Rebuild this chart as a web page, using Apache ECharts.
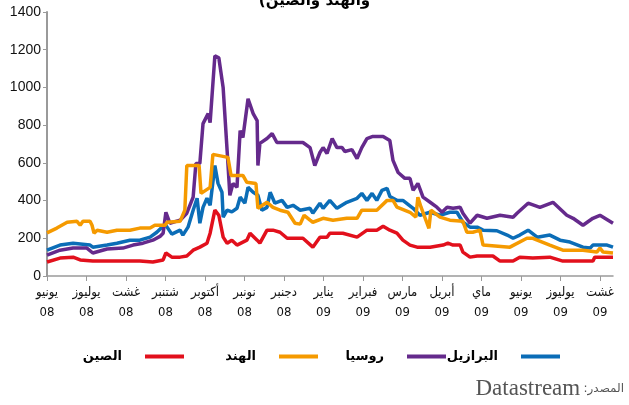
<!DOCTYPE html>
<html>
<head>
<meta charset="utf-8">
<script src="https://cdn.jsdelivr.net/npm/echarts@6/dist/echarts.min.js"></script>
<style>
html,body{margin:0;padding:0;background:#fff;}
#chart{width:629px;height:405px;}
</style>
</head>
<body>
<div id="chart"></div>
<script>
// months from June 2008 (0) to August 2009 (14)
var months = ['يونيو','يوليوز','غشت','شتنبر','أكتوبر','نونبر','دجنبر','يناير','فبراير','مارس','أبريل','ماي','يونيو','يوليوز','غشت'];
var years = ['08','08','08','08','08','08','08','09','09','09','09','09','09','09','09'];
var monthTicks = [0,1,2,3,4,5,6,7,8,9,10,11,12,13,14];

var names = ['البرازيل','روسيا','الهند','الصين'];

// [month offset, value]
var brazil = [[0,137],[0.33,164],[0.66,174],[1.09,164],[1.16,153],[1.52,164],[1.77,174],[2.10,190],[2.35,190],[2.61,206],[2.78,232],[2.99,275],[3.16,222],[3.37,243],[3.44,217],[3.57,259],[3.70,349],[3.80,412],[3.87,280],[3.95,364],[4.05,412],[4.13,375],[4.25,586],[4.33,491],[4.43,444],[4.46,312],[4.56,349],[4.68,340],[4.81,359],[4.89,418],[5.01,386],[5.09,470],[5.22,444],[5.34,428],[5.44,349],[5.57,364],[5.65,444],[5.77,386],[5.95,401],[6.08,364],[6.23,375],[6.41,349],[6.66,359],[6.73,333],[6.91,386],[6.99,359],[7.16,401],[7.34,359],[7.59,391],[7.85,412],[7.97,438],[8.10,401],[8.23,438],[8.35,401],[8.48,454],[8.61,465],[8.68,422],[8.86,401],[9.01,401],[9.27,359],[9.44,322],[9.70,338],[9.95,322],[10.20,338],[10.38,338],[10.53,285],[10.71,259],[10.89,259],[11.04,243],[11.39,240],[11.65,217],[11.80,200],[11.97,217],[12.18,243],[12.41,206],[12.73,217],[12.99,190],[13.24,180],[13.57,153],[13.75,148],[13.82,164],[14.18,164],[14.33,153]];

var russia = [[0,111],[0.33,137],[0.66,148],[1.01,148],[1.16,122],[1.52,143],[1.92,148],[2.18,164],[2.43,174],[2.68,190],[2.86,210],[2.94,227],[3.01,338],[3.11,280],[3.37,296],[3.54,333],[3.70,418],[3.77,597],[3.87,597],[3.95,808],[4.08,861],[4.13,813],[4.25,1167],[4.35,1157],[4.46,998],[4.56,666],[4.63,428],[4.71,491],[4.81,470],[4.89,771],[4.96,734],[5.09,940],[5.22,861],[5.32,824],[5.34,586],[5.39,703],[5.57,729],[5.70,755],[5.82,708],[6.48,708],[6.66,681],[6.78,586],[6.91,655],[6.99,681],[7.09,650],[7.22,729],[7.34,681],[7.47,681],[7.54,660],[7.72,670],[7.85,623],[7.97,681],[8.10,729],[8.25,740],[8.51,740],[8.68,718],[8.76,613],[8.89,549],[9.06,518],[9.19,518],[9.27,454],[9.39,491],[9.52,418],[9.70,391],[9.87,365],[10.00,338],[10.13,365],[10.28,359],[10.46,365],[10.53,333],[10.71,280],[10.89,322],[11.14,306],[11.47,322],[11.80,312],[11.90,333],[12.18,386],[12.48,364],[12.81,391],[13.16,322],[13.32,306],[13.57,269],[13.82,306],[14.00,322],[14.33,280]];

var india = [[0,229],[0.25,254],[0.51,285],[0.76,290],[0.84,269],[0.91,290],[1.09,290],[1.14,269],[1.19,227],[1.27,243],[1.52,232],[1.77,243],[2.10,243],[2.35,254],[2.61,254],[2.73,269],[2.99,269],[3.04,285],[3.37,290],[3.49,349],[3.54,586],[3.85,586],[3.90,438],[4.13,470],[4.20,645],[4.58,629],[4.66,533],[4.96,533],[5.06,497],[5.29,490],[5.34,359],[5.57,391],[5.72,364],[5.90,349],[6.10,338],[6.28,280],[6.41,275],[6.51,322],[6.66,296],[6.73,285],[6.99,306],[7.24,296],[7.59,306],[7.85,306],[7.97,349],[8.35,349],[8.61,401],[8.76,401],[8.86,365],[9.19,338],[9.34,312],[9.39,418],[9.47,365],[9.67,253],[9.72,349],[9.95,312],[10.20,296],[10.53,290],[10.63,232],[10.78,232],[10.96,243],[11.04,164],[11.72,153],[12.15,200],[12.30,200],[12.73,164],[13.06,137],[13.57,137],[13.92,127],[14.00,148],[14.08,127],[14.33,122]];

var china = [[0,74],[0.33,95],[0.66,100],[0.84,85],[1.16,79],[1.52,79],[2.03,79],[2.35,79],[2.68,74],[2.94,85],[3.01,122],[3.16,100],[3.37,100],[3.54,106],[3.70,137],[3.87,153],[4.05,174],[4.13,227],[4.25,349],[4.35,322],[4.46,206],[4.56,174],[4.68,190],[4.81,164],[5.06,190],[5.14,227],[5.32,190],[5.39,174],[5.57,243],[5.72,243],[5.90,232],[6.08,200],[6.48,200],[6.73,153],[6.91,206],[7.09,206],[7.16,227],[7.49,227],[7.85,206],[8.10,243],[8.35,243],[8.51,264],[8.68,243],[8.86,227],[9.01,190],[9.19,164],[9.37,153],[9.70,153],[10.03,164],[10.15,174],[10.28,164],[10.46,164],[10.53,127],[10.71,100],[10.89,106],[11.29,106],[11.47,79],[11.80,79],[11.97,100],[12.30,95],[12.73,100],[13.06,79],[13.82,79],[13.87,100],[14.33,100]];

var colors = ['#0b6db7','#652a8c','#f59a00','#e2101c'];
var allData = [brazil, russia, india, china];

var myChart = echarts.init(document.getElementById('chart'));

var series = [];
for (var i = 0; i < names.length; i++) {
    series.push({
        name: names[i],
        type: 'line',
        data: allData[i],
        showSymbol: false,
        symbol: 'none',
        lineStyle: { color: colors[i], width: 3.5 },
        itemStyle: { color: colors[i] },
        emphasis: { disabled: true }
    });
}

// one legend per item so the gaps match (icon on the right, text on the left)
var legendRight = [64, 178, 306, 440];
var legends = [];
for (var i = 0; i < names.length; i++) {
    legends.push({
        data: [names[i]],
        right: legendRight[i],
        top: 345,
        align: 'right',
        icon: 'rect',
        itemWidth: 39,
        itemHeight: 4,
        selectedMode: false,
        textStyle: {
            color: '#000',
            fontSize: 13,
            fontWeight: 'bold',
            fontFamily: 'DejaVu Sans',
            padding: [0, 18, 0, 0]
        }
    });
}

var option = {
    backgroundColor: '#fff',
    animation: false,
    title: {
        text: '(والهند والصين',
        left: 'center',
        top: -11,
        textStyle: { color: '#000', fontSize: 15, fontWeight: 'bold', fontFamily: 'DejaVu Sans' }
    },
    legend: legends,
    grid: { left: 47, right: 16, top: 12, bottom: 129, outerBoundsMode: 'none' },
    xAxis: {
        type: 'value',
        min: 0,
        max: 14.33,
        splitLine: { show: false },
        axisLine: { show: true, lineStyle: { color: '#9a9a9a', width: 1.5 } },
        axisTick: { show: true, length: 5, customValues: monthTicks, lineStyle: { color: '#9a9a9a', width: 1 } },
        axisLabel: {
            customValues: monthTicks,
            margin: 7,
            color: '#111',
            fontSize: 13,
            lineHeight: 20,
            fontFamily: 'DejaVu Sans Condensed, DejaVu Sans',
            formatter: function (v) {
                var k = Math.round(v);
                return months[k] + '\n' + years[k];
            }
        }
    },
    yAxis: {
        type: 'value',
        min: 0,
        max: 1400,
        interval: 200,
        splitLine: { show: false },
        axisLine: { show: true, lineStyle: { color: '#9a9a9a', width: 2 } },
        axisTick: { show: true, length: 4, lineStyle: { color: '#9a9a9a', width: 1 } },
        axisLabel: {
            color: '#111',
            fontSize: 14,
            margin: 6,
            fontFamily: 'Liberation Sans',
            formatter: function (v) { return String(v); }
        }
    },
    graphic: [{
        type: 'text',
        right: 5,
        top: 377,
        style: {
            text: '{b|Datastream} {a|:المصدر}',
            rich: {
                b: { fontFamily: 'Liberation Serif', fontSize: 23, fill: '#555', color: '#555' },
                a: { fontFamily: 'DejaVu Sans', fontSize: 12, fill: '#555', color: '#555' }
            }
        }
    }],
    series: series
};
myChart.setOption(option);
</script>
</body>
</html>
